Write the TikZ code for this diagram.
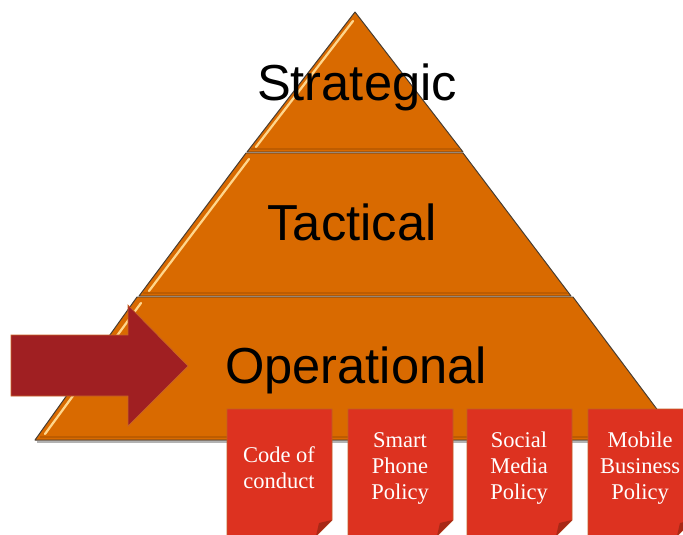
\documentclass[tikz,border=0pt]{standalone}
\usepackage{fontspec}
\setmainfont{Liberation Serif}
\setsansfont{Liberation Sans}
\usetikzlibrary{positioning}

\definecolor{pyrorange}{RGB}{217,106,0}
\definecolor{pyredge}{RGB}{70,60,50}
\definecolor{pyrlight}{RGB}{255,214,140}
\definecolor{pyrdark}{RGB}{190,92,0}
\definecolor{policyred}{RGB}{221,50,32}
\definecolor{policyedge}{RGB}{190,95,40}
\definecolor{policyfold}{RGB}{168,40,22}
\definecolor{arrowred}{RGB}{160,31,34}
\definecolor{arrowedge}{RGB}{200,100,40}

\begin{document}
\begin{tikzpicture}[
    x=0.025cm, y=-0.025cm,
    layer/.style={fill=pyrorange,draw=pyredge,line width=0.7pt,line join=round},
    bevel/.style={draw=pyrlight,line width=1.6pt,line cap=round},
    shade/.style={draw=pyrdark,line width=2pt},
    level/.style={font=\sffamily\fontsize{36}{40}\selectfont,text=black,inner sep=0pt,anchor=base},
    policy/.style={fill=policyred,draw=policyedge,line width=0.5pt},
    fold/.style={fill=policyfold},
    policytext/.style={font=\fontsize{16}{18.5}\selectfont,text=white,align=center,inner sep=0pt},
  ]

  \useasboundingbox (0,0) rectangle (683,534);
  \clip (0,0) rectangle (683,534);

  % pyramid layers

  \draw[gray!60,line width=2pt] (37,442) -- (680,442);

  \draw[layer] (137,297) -- (573,297) -- (680,440) -- (35,440) -- cycle;
  \draw[shade] (40,437) -- (676,437);
  \draw[bevel] (141,303) -- (45,434);

  \draw[layer] (246,153) -- (463,153) -- (571,296) -- (139,296) -- cycle;
  \draw[shade] (143,293) -- (568,293);
  \draw[bevel] (249,159) -- (149,291);

  \draw[layer] (355,12) -- (463,152) -- (247,152) -- cycle;
  \draw[shade] (251,149) -- (460,149);
  \draw[bevel] (353,21) -- (256,147);

  \node (strategic) at (357,100) [level] {Strategic};
  \node (tactical) at (352,240) [level] {Tactical};
  \node (operational) at (356,383) [level] {Operational};

  % arrow into operational

  \draw[fill=arrowred,draw=arrowedge,line width=0.5pt] (11,335) -- (128,335) -- (128,305)
    -- (188,366) -- (128,426) -- (128,396) -- (11,396) -- cycle;

  % policies

  \foreach \x/\name/\txt in {227/code/{Code of\\conduct},348/smart/{Smart\\Phone\\Policy},
      467/social/{Social\\Media\\Policy},588/mobile/{Mobile\\Business\\Policy}} {
    \draw[policy] (\x,409) -- ++(105,0) -- ++(0,111) -- ++(-16,16) -- (\x,536) -- cycle;
    \fill[fold] (\x+105,520) -- ++(-16,16) -- ++(3,-13) -- cycle;
    \node (\name) at (\x+52,468) [policytext] {\txt};
  }

\end{tikzpicture}
\end{document}
